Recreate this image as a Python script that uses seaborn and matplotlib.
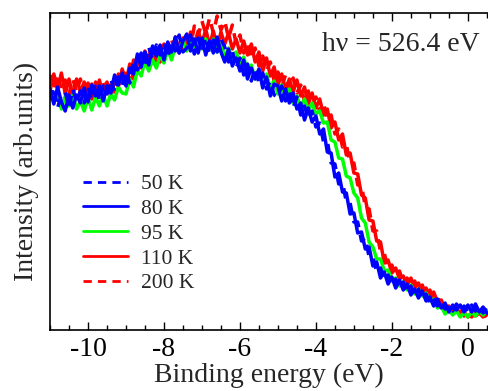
import numpy as np
import pandas as pd
import matplotlib
matplotlib.use('Agg')
import matplotlib.pyplot as plt
import seaborn as sns

# binding energy grid (eV), 0.1 eV step from -11.0 to 0.5
energy = np.round(np.arange(-110, 6) * 0.1, 1)

# intensities (arb. units)
I_50K = [230, 243, 222, 236, 238, 222, 241, 228, 239, 227,
         243, 230, 247, 229, 244, 236, 251, 238, 253, 245,
         259, 247, 270, 260, 277, 266, 283, 270, 285, 275,
         288, 272, 288, 279, 295, 278, 282, 295, 276, 292,
         279, 293, 276, 290, 278, 291, 283, 268, 279, 262,
         272, 255, 266, 249, 262, 247, 257, 241, 249, 235,
         233, 244, 229, 240, 222, 233, 215, 224, 211, 219,
         203, 207, 188, 189, 167, 166, 146, 148, 128, 127,
         108, 108, 89, 92, 73, 73, 58, 62, 49, 55,
         45, 51, 42, 48, 38, 44, 34, 41, 31, 36,
         27, 32, 24, 29, 21, 25, 19, 26, 19, 24,
         18, 25, 19, 24, 17, 23]
I_80K = [241, 226, 243, 228, 219, 235, 222, 235, 227, 242,
         228, 245, 234, 244, 229, 244, 237, 255, 245, 257,
         244, 262, 256, 276, 263, 278, 265, 284, 274, 285,
         270, 288, 278, 293, 277, 289, 296, 279, 291, 277,
         292, 275, 289, 277, 293, 278, 268, 281, 264, 272,
         259, 270, 251, 262, 251, 261, 242, 253, 234, 246,
         244, 229, 241, 227, 237, 221, 227, 210, 222, 208,
         214, 196, 201, 178, 177, 153, 157, 138, 137, 116,
         117, 97, 98, 81, 83, 64, 68, 52, 58, 46,
         53, 42, 50, 40, 46, 35, 41, 32, 39, 29,
         33, 24, 31, 22, 27, 18, 25, 20, 25, 18,
         25, 18, 26, 18, 23, 17]
I_95K = [240, 227, 235, 221, 234, 224, 235, 221, 229, 219,
         232, 220, 233, 224, 236, 224, 236, 230, 243, 237,
         236, 251, 243, 260, 254, 269, 259, 270, 262, 275,
         267, 280, 270, 284, 278, 290, 279, 292, 282, 291,
         281, 291, 281, 291, 278, 286, 273, 282, 271, 278,
         265, 273, 258, 265, 251, 260, 248, 256, 242, 249,
         236, 245, 233, 241, 227, 234, 222, 231, 220, 227,
         216, 219, 207, 208, 190, 188, 172, 171, 154, 152,
         137, 132, 112, 107, 88, 83, 71, 71, 59, 60,
         49, 52, 44, 48, 40, 45, 36, 41, 34, 37,
         29, 31, 22, 24, 16, 20, 15, 19, 13, 17,
         13, 18, 14, 19, 15, 19]
I_110K = [239, 256, 241, 257, 236, 251, 234, 251, 238, 248,
          231, 246, 233, 250, 235, 248, 233, 251, 243, 261,
          248, 266, 251, 270, 262, 279, 264, 280, 269, 284,
          269, 287, 276, 293, 277, 292, 281, 298, 285, 299,
          286, 301, 284, 299, 282, 298, 286, 297, 281, 291,
          277, 289, 275, 286, 268, 278, 259, 272, 254, 263,
          245, 256, 240, 251, 238, 250, 234, 243, 226, 237,
          222, 231, 215, 221, 202, 208, 190, 196, 175, 177,
          157, 156, 135, 132, 110, 109, 89, 88, 67, 70,
          57, 62, 51, 54, 44, 52, 42, 47, 37, 42,
          34, 38, 28, 30, 21, 24, 17, 21, 14, 18,
          13, 17, 14, 17, 13, 16]
I_200K = [255, 240, 256, 240, 250, 236, 251, 238, 251, 233,
          247, 231, 248, 234, 250, 233, 249, 238, 256, 247,
          261, 250, 270, 257, 275, 264, 281, 268, 282, 268,
          286, 274, 291, 275, 292, 278, 296, 283, 304, 294,
          309, 296, 312, 297, 314, 300, 309, 292, 305, 286,
          295, 277, 288, 271, 282, 264, 274, 259, 268, 249,
          258, 243, 255, 240, 252, 237, 245, 228, 239, 225,
          233, 218, 227, 210, 215, 196, 201, 183, 186, 166,
          167, 145, 145, 123, 121, 99, 99, 78, 77, 61,
          65, 53, 59, 47, 52, 43, 49, 40, 45, 35,
          40, 31, 34, 24, 27, 19, 22, 16, 19, 14,
          17, 13, 17, 14, 17, 13]

labels = ['50 K', '80 K', '95 K', '110 K', '200 K']
series = [I_50K, I_80K, I_95K, I_110K, I_200K]
colors = ['#0000ff', '#0000ff', '#00ff00', '#ff0000', '#ff0000']
styles = ['--', '-', '-', '-', '--']

sns.set_style('ticks')
plt.rcParams['font.family'] = ['Liberation Serif', 'DejaVu Serif']
plt.rcParams['axes.unicode_minus'] = False

fig = plt.figure(figsize=(4.88, 3.91), dpi=100)
ax = fig.add_axes([50/488, 61/391, 438/488, 317/391])

handles = {}
for lab, vals, c, ls in reversed(list(zip(labels, series, colors, styles))):
    df = pd.DataFrame({'energy': energy, 'intensity': vals})
    sns.lineplot(data=df, x='energy', y='intensity', color=c, lw=2.5, ax=ax,
                 estimator=None, sort=False, label=lab)
    line = ax.get_lines()[-1]
    if ls == '--':
        line.set_dashes((3, 2.2))
    handles[lab] = line

ax.set_xlim(-11.0, 0.53)
ax.set_ylim(0, 317)
ax.set_yticks([])
ax.set_xticks([-10, -8, -6, -4, -2, 0])
ax.set_xticks(np.arange(-11, 0.6, 0.5), minor=True)
ax.tick_params(axis='x', which='both', direction='in', top=True, bottom=True,
               labelsize=20, pad=5, width=1, colors='black')
ax.tick_params(axis='x', which='major', length=6)
ax.tick_params(axis='x', which='minor', length=3.5)
for s in ['left', 'bottom', 'top']:
    ax.spines[s].set_color('black')
    ax.spines[s].set_linewidth(1.2)
ax.spines['right'].set_visible(False)

ax.set_xlabel('Binding energy (eV)', fontsize=20, labelpad=1)
ax.set_ylabel('Intensity (arb.units)', fontsize=20, labelpad=8)

ax.text(0.982, 0.90, 'hν = 526.4 eV', transform=ax.transAxes, ha='right',
        va='center', fontsize=20)

leg = ax.legend([handles[l] for l in labels], labels, loc='upper left',
                bbox_to_anchor=(0.075, 0.492), frameon=False, fontsize=15.5,
                handlelength=2.1, handletextpad=0.6, labelspacing=0.22,
                borderpad=0, borderaxespad=0)
for h in leg.get_lines():
    h.set_linewidth(2)

fig.savefig('out.png', dpi=100)
